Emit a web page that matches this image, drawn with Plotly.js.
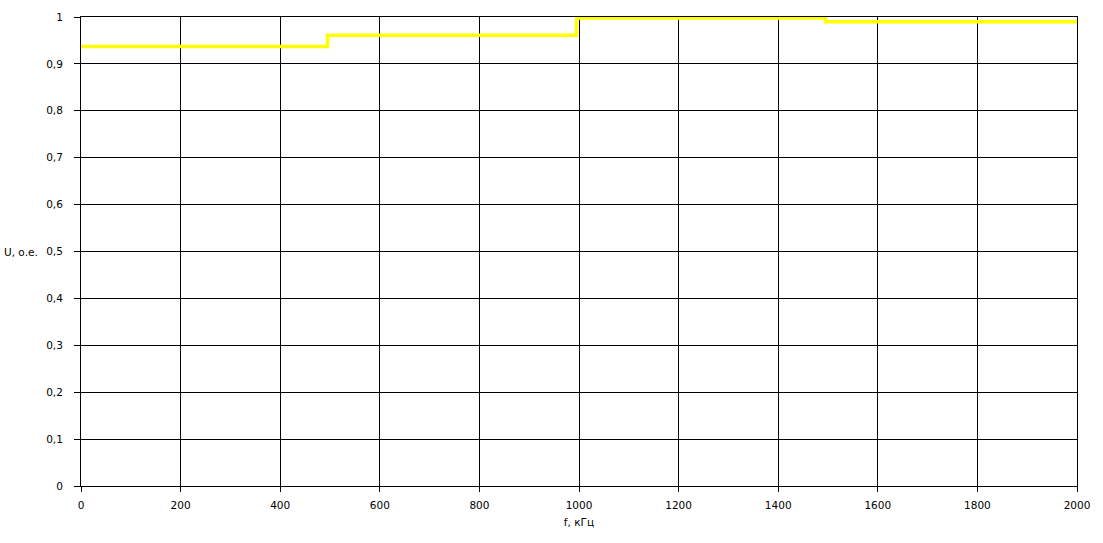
<!DOCTYPE html>
<html>
<head>
<meta charset="utf-8">
<script src="https://cdn.plot.ly/plotly-3.0.1.min.js"></script>
<style>html,body{margin:0;padding:0;background:#fff;}#chart{width:1103px;height:543px;}</style>
</head>
<body>
<div id="chart"></div>
<script>
// Step breakpoints (kHz) and levels (p.u.)
var freq = [0, 495, 995, 1495, 2000];
var voltage = [0.937, 0.961, 0.998, 0.990, 0.990];
var xTicks = [0, 200, 400, 600, 800, 1000, 1200, 1400, 1600, 1800, 2000];
var yTicks = [0, 0.1, 0.2, 0.3, 0.4, 0.5, 0.6, 0.7, 0.8, 0.9, 1];
var xTitle = 'f, кГц';
var yTitle = 'U, о.е.';

var trace = {
  x: freq, y: voltage, type: 'scatter', mode: 'lines',
  line: {shape: 'hv', color: '#FFFF00', width: 3.5},
  hoverinfo: 'skip'
};
var font = {family: 'DejaVu Sans, Verdana, sans-serif', size: 10.5, color: '#000'};
var layout = {
  width: 1103, height: 543,
  margin: {l: 81, r: 26, t: 17, b: 57},
  paper_bgcolor: '#fff', plot_bgcolor: '#fff',
  separators: ', ',
  font: font,
  showlegend: false,
  xaxis: {
    range: [0, 2000], tickvals: xTicks, ticktext: xTicks.map(String),
    showgrid: true, gridcolor: '#000', gridwidth: 1,
    showline: true, linecolor: '#000', linewidth: 1, mirror: true,
    ticks: 'outside', ticklen: 5, tickcolor: '#000', zeroline: false,
    ticklabelstandoff: 4,
    title: {text: xTitle, font: font, standoff: 9}
  },
  yaxis: {
    range: [0, 1], tickvals: yTicks, ticktext: yTicks.map(function(v){return String(v).replace('.', ',');}),
    showgrid: true, gridcolor: '#000', gridwidth: 1,
    showline: true, linecolor: '#000', linewidth: 1, mirror: true,
    ticks: 'outside', ticklen: 6, tickcolor: '#000', zeroline: false,
    ticklabelstandoff: 9
  },
  annotations: [{
    text: yTitle, xref: 'paper', yref: 'paper', x: 0, y: 0.5,
    xanchor: 'left', yanchor: 'middle', xshift: -79, showarrow: false, font: font
  }]
};
Plotly.newPlot('chart', [trace], layout, {staticPlot: true});
</script>
</body>
</html>
